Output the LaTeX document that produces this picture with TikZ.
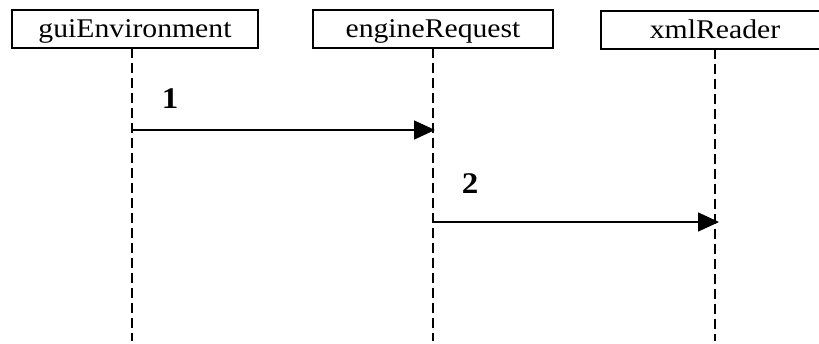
\documentclass[tikz,border=0pt]{standalone}
\usepackage{fontspec}
\setmainfont{Liberation Serif}[FakeStretch=1.1]
\usetikzlibrary{arrows.meta}
\begin{document}
\begin{tikzpicture}[x=1pt,y=-1pt,
  obj/.style={draw,line width=1.4pt,inner sep=0pt,minimum height=38pt,
    text height=20pt,text depth=3pt,font=\fontsize{27}{30}\selectfont},
  life/.style={line width=1.4pt,dash pattern=on 10pt off 5pt},
  msg/.style={line width=1.6pt,-{Triangle[length=21pt,width=19pt]}},
  num/.style={font=\fontsize{30}{34}\selectfont\bfseries}]
\useasboundingbox (0,0) rectangle (819,343);
% objects (the last box runs past the right edge)
\node[obj,minimum width=246pt] (gui) at (135,29) {guiEnvironment};
\node[obj,minimum width=240pt] (eng) at (433,29) {engineRequest};
\node[obj,minimum width=228pt] (xml) at (715,30) {xmlReader};
% lifeline ends
\coordinate (g0) at (132,48);
\coordinate (g1) at (132,341);
\coordinate (e0) at (433,48);
\coordinate (e1) at (433,341);
\coordinate (x0) at (715,49);
\coordinate (x1) at (715,341);
\draw[life] (g0) -- (g1);
\draw[life] (e0) -- (e1);
\draw[life] (x0) -- (x1);
% messages
\coordinate (m1s) at (132,130);
\coordinate (m1e) at (435,130);
\coordinate (m2s) at (433,222);
\coordinate (m2e) at (719,222);
\draw[msg] (m1s) -- (m1e);
\draw[msg] (m2s) -- (m2e);
\node[num] (n1) at (170,99) {1};
\node[num] (n2) at (470,184) {2};
\end{tikzpicture}
\end{document}
